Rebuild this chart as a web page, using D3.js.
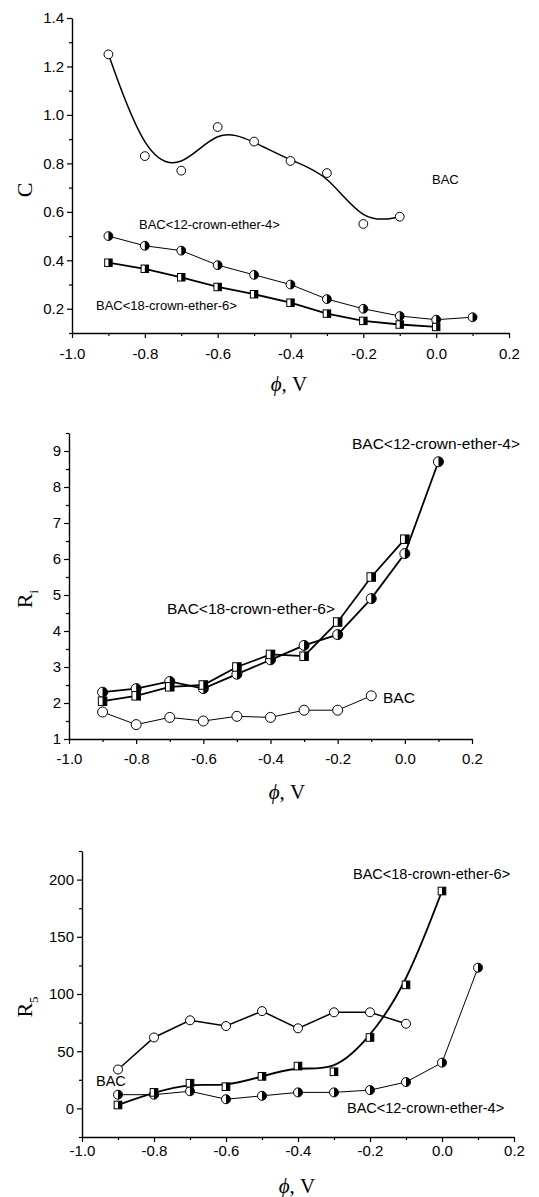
<!DOCTYPE html>
<html>
<head>
<meta charset="utf-8">
<script src="https://cdn.jsdelivr.net/npm/d3@7"></script>
<style>
  body { margin: 0; background: #fff; }
  svg { display: block; }
</style>
</head>
<body>
<svg id="chart" width="539" height="1197"></svg>
<script>
// potentials, V
const phiBAC = [-0.9, -0.8, -0.7, -0.6, -0.5, -0.4, -0.3, -0.2, -0.1];
const phi18 = [-0.9, -0.8, -0.7, -0.6, -0.5, -0.4, -0.3, -0.2, -0.1, 0.0];
const phi12 = [-0.9, -0.8, -0.7, -0.6, -0.5, -0.4, -0.3, -0.2, -0.1, 0.0, 0.1];

// panel 1: C
const cBAC = [1.25, 0.83, 0.77, 0.95, 0.89, 0.81, 0.76, 0.55, 0.58];
const c12 = [0.50, 0.46, 0.44, 0.38, 0.34, 0.30, 0.24, 0.20, 0.17, 0.155, 0.165];
const c18 = [0.39, 0.365, 0.33, 0.29, 0.26, 0.225, 0.18, 0.15, 0.135, 0.125];

// panel 2: Ri
const riBAC = [1.75, 1.4, 1.6, 1.5, 1.63, 1.6, 1.8, 1.8, 2.2];
const ri12 = [2.3, 2.4, 2.6, 2.4, 2.8, 3.2, 3.6, 3.9, 4.9, 6.15, 8.7];
const ri18 = [2.05, 2.2, 2.45, 2.5, 3.0, 3.35, 3.3, 4.25, 5.5, 6.55];

// panel 3: R5
const r5BAC = [34, 62, 77, 72, 85, 70, 84, 84, 74];
const r512 = [12, 12, 15, 8, 11, 14, 14, 16, 23, 40, 123];
const r518 = [3, 14, 22, 19, 28, 37, 32, 62, 108, 190];

// ticks
const xMajor = [-1.0, -0.8, -0.6, -0.4, -0.2, 0.0, 0.2];
const xMinor = [-0.9, -0.7, -0.5, -0.3, -0.1, 0.1];
const cMajor = [0.2, 0.4, 0.6, 0.8, 1.0, 1.2, 1.4];
const cMinor = [0.1, 0.3, 0.5, 0.7, 0.9, 1.1, 1.3];
const riMajor = [1, 2, 3, 4, 5, 6, 7, 8, 9];
const riMinor = [1.5, 2.5, 3.5, 4.5, 5.5, 6.5, 7.5, 8.5, 9.5];
const r5Major = [0, 50, 100, 150, 200];
const r5Minor = [-25, 25, 75, 125, 175, 225];

const svg = d3.select("#chart");
const sans = "'Liberation Sans', Arial, sans-serif";
const serif = "'Liberation Serif', 'Times New Roman', serif";
const fmt = d3.formatLocale({ decimal: ".", thousands: ",", grouping: [3], currency: ["", ""], minus: "-" }).format(".1f");

function zip(xs, ys) {
    return ys.map((v, i) => [xs[i], v]);
}

function drawPanel(p) {
    const g = svg.append("g");
    const x = d3.scaleLinear().domain([-1.0, 0.2]).range([p.left, p.right]);
    const y = d3.scaleLinear().domain(p.yDomain).range([p.bottom, p.top]);

    // X axis
    g.append("g")
        .attr("transform", `translate(0,${p.bottom})`)
        .call(d3.axisBottom(x).tickValues(xMajor).tickSize(5).tickSizeOuter(0).tickPadding(p.xPad).tickFormat(fmt));
    g.append("g")
        .attr("transform", `translate(0,${p.bottom})`)
        .call(d3.axisBottom(x).tickValues(xMinor).tickSize(3).tickFormat(""))
        .select(".domain").remove();

    // Y axis
    g.append("g")
        .attr("transform", `translate(${p.left},0)`)
        .call(d3.axisLeft(y).tickValues(p.yMajor).tickSize(5).tickSizeOuter(0).tickPadding(3).tickFormat(p.yFmt));
    g.append("g")
        .attr("transform", `translate(${p.left},0)`)
        .call(d3.axisLeft(y).tickValues(p.yMinor).tickSize(3).tickFormat(""))
        .select(".domain").remove();

    g.selectAll(".domain").attr("stroke-width", 1.4);
    g.selectAll(".tick line").attr("stroke-width", 1.2);
    g.selectAll(".tick text").attr("font-family", sans).attr("font-size", 15).attr("fill", "#000");

    // axis titles
    g.append("text")
        .attr("x", p.xTitle[0]).attr("y", p.xTitle[1])
        .attr("text-anchor", "middle")
        .attr("font-family", serif).attr("font-size", 21)
        .html('<tspan font-style="italic">ϕ</tspan>, V');

    const yt = g.append("text")
        .attr("transform", `translate(${p.yTitle[0]},${p.yTitle[1]}) rotate(-90)`)
        .attr("text-anchor", "middle")
        .attr("font-family", serif).attr("font-size", 22);
    yt.append("tspan").text(p.yName);
    if (p.ySub) {
        yt.append("tspan").attr("font-size", 13).attr("dy", 6).text(p.ySub);
    }

    // lines
    p.series.forEach(s => {
        const line = d3.line()
            .x(d => x(d[0]))
            .y(d => y(d[1]))
            .curve(s.smooth ? d3.curveBasis : d3.curveLinear);
        g.append("path")
            .datum(s.data)
            .attr("fill", "none")
            .attr("stroke", "#000")
            .attr("stroke-width", s.width)
            .attr("d", line);
    });

    // markers
    p.series.forEach(s => {
        const r = p.r;
        s.data.forEach(d => {
            const cx = x(d[0]), cy = y(d[1]);
            if (s.marker === "open") {
                g.append("circle").attr("cx", cx).attr("cy", cy).attr("r", r)
                    .attr("fill", "#fff").attr("stroke", "#000").attr("stroke-width", 1);
            } else if (s.marker === "halfcircle") {
                g.append("circle").attr("cx", cx).attr("cy", cy).attr("r", r)
                    .attr("fill", "#fff").attr("stroke", "#000").attr("stroke-width", 1);
                g.append("path")
                    .attr("d", `M${cx},${cy - r}A${r},${r} 0 0 1 ${cx},${cy + r}Z`)
                    .attr("fill", "#000");
            } else {
                const h = r * 0.85;
                g.append("rect").attr("x", cx - h).attr("y", cy - h).attr("width", 2 * h).attr("height", 2 * h)
                    .attr("fill", "#fff").attr("stroke", "#000").attr("stroke-width", 1);
                g.append("rect").attr("x", cx).attr("y", cy - h).attr("width", h).attr("height", 2 * h)
                    .attr("fill", "#000");
            }
        });
    });

    // labels
    p.labels.forEach(l => {
        g.append("text")
            .attr("x", l.x).attr("y", l.y)
            .attr("dominant-baseline", "central")
            .attr("font-family", sans).attr("font-size", p.labelSize)
            .text(l.text);
    });
}

drawPanel({
    left: 72, right: 509, top: 18, bottom: 333,
    yDomain: [0.1, 1.4], yMajor: cMajor, yMinor: cMinor, yFmt: d3.format(".1f"),
    xPad: 10, r: 4.4, labelSize: 13,
    xTitle: [289, 391], yTitle: [32, 190], yName: "C", ySub: null,
    series: [
        { data: zip(phiBAC, cBAC), marker: "open", width: 1.5, smooth: true },
        { data: zip(phi12, c12), marker: "halfcircle", width: 1, smooth: false },
        { data: zip(phi18, c18), marker: "square", width: 1.8, smooth: false }
    ],
    labels: [
        { text: "BAC", x: 432, y: 179 },
        { text: "BAC<12-crown-ether-4>", x: 139, y: 224 },
        { text: "BAC<18-crown-ether-6>", x: 96, y: 305 }
    ]
});

drawPanel({
    left: 69, right: 472, top: 433, bottom: 739,
    yDomain: [1, 9.5], yMajor: riMajor, yMinor: riMinor, yFmt: d3.format("d"),
    xPad: 9, r: 5, labelSize: 15.5,
    xTitle: [287, 799], yTitle: [32, 599], yName: "R", ySub: "i",
    series: [
        { data: zip(phiBAC, riBAC), marker: "open", width: 1, smooth: false },
        { data: zip(phi12, ri12), marker: "halfcircle", width: 1.8, smooth: false },
        { data: zip(phi18, ri18), marker: "square", width: 1.8, smooth: false }
    ],
    labels: [
        { text: "BAC<12-crown-ether-4>", x: 352, y: 443 },
        { text: "BAC<18-crown-ether-6>", x: 167, y: 608 },
        { text: "BAC", x: 383, y: 697 }
    ]
});

drawPanel({
    left: 82, right: 514, top: 851, bottom: 1137,
    yDomain: [-25, 225], yMajor: r5Major, yMinor: r5Minor, yFmt: d3.format("d"),
    xPad: 3, r: 4.5, labelSize: 14.5,
    xTitle: [297, 1193], yTitle: [32, 1007], yName: "R", ySub: "5",
    series: [
        { data: zip(phiBAC, r5BAC), marker: "open", width: 1.5, smooth: false },
        { data: zip(phi12, r512), marker: "halfcircle", width: 1, smooth: false },
        { data: zip(phi18, r518), marker: "square", width: 1.8, smooth: true }
    ],
    labels: [
        { text: "BAC<18-crown-ether-6>", x: 353, y: 874 },
        { text: "BAC", x: 96, y: 1081 },
        { text: "BAC<12-crown-ether-4>", x: 347, y: 1108 }
    ]
});
</script>
</body>
</html>
